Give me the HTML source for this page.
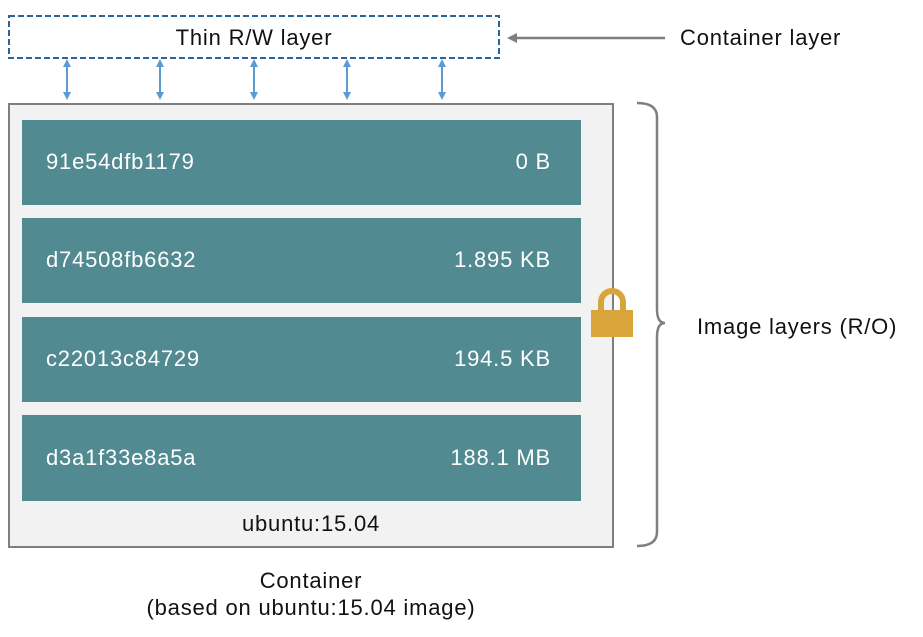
<!DOCTYPE html>
<html><head><meta charset="utf-8"><style>
html,body{margin:0;padding:0;background:#fff;width:923px;height:637px;overflow:hidden}
text{font-family:"Liberation Sans",sans-serif;letter-spacing:0.8px}
</style></head><body>
<svg width="923" height="637" viewBox="0 0 923 637" xmlns="http://www.w3.org/2000/svg">
<defs>
<marker id="ah" markerWidth="8" markerHeight="8" refX="4" refY="4" orient="auto-start-reverse" markerUnits="userSpaceOnUse">
<path d="M0,0 L8,4 L0,8 z" fill="#5b9bd5"/></marker>
<marker id="ag" markerWidth="10" markerHeight="10" refX="5" refY="5" orient="auto" markerUnits="userSpaceOnUse">
<path d="M0,0 L10,5 L0,10 z" fill="#7f7f7f"/></marker>
</defs>
<rect x="9" y="16" width="490" height="42" fill="#fff" stroke="#2e6598" stroke-width="2" stroke-dasharray="6,3"/>
<text x="254" y="45" font-size="22" text-anchor="middle" fill="#111">Thin R/W layer</text>
<line x1="665" y1="38" x2="512" y2="38" stroke="#7f7f7f" stroke-width="2.5" marker-end="url(#ag)"/>
<text x="680" y="45" font-size="22" fill="#111">Container layer</text>
<g stroke="#5b9bd5" stroke-width="2" marker-start="url(#ah)" marker-end="url(#ah)">
<line x1="67" y1="63" x2="67" y2="96"/>
<line x1="160" y1="63" x2="160" y2="96"/>
<line x1="254" y1="63" x2="254" y2="96"/>
<line x1="347" y1="63" x2="347" y2="96"/>
<line x1="442" y1="63" x2="442" y2="96"/>
</g>
<rect x="9" y="104" width="604" height="443" fill="#f2f2f2" stroke="#7f7f7f" stroke-width="2"/>
<g fill="#528a92">
<rect x="22" y="120" width="559" height="85"/>
<rect x="22" y="218" width="559" height="85"/>
<rect x="22" y="317" width="559" height="85"/>
<rect x="22" y="415" width="559" height="86"/>
</g>
<g font-size="22" fill="#fff">
<text x="46" y="169">91e54dfb1179</text><text x="551" y="169" text-anchor="end">0 B</text>
<text x="46" y="267">d74508fb6632</text><text x="551" y="267" text-anchor="end">1.895 KB</text>
<text x="46" y="366">c22013c84729</text><text x="551" y="366" text-anchor="end">194.5 KB</text>
<text x="46" y="465">d3a1f33e8a5a</text><text x="551" y="465" text-anchor="end">188.1 MB</text>
</g>
<text x="311" y="531" font-size="22" text-anchor="middle" fill="#111">ubuntu:15.04</text>
<path d="M601,310 v-8 a11,11 0 0 1 22,0 v8" fill="none" stroke="#d9a53a" stroke-width="6"/>
<rect x="591" y="310" width="42" height="27" fill="#d9a53a"/>
<path d="M637,103 q20,0 20,14 v192 q0,14 8,14 q-8,0 -8,14 v195 q0,14 -20,14" fill="none" stroke="#7f7f7f" stroke-width="2.5"/>
<text x="697" y="334" font-size="22" fill="#111">Image layers (R/O)</text>
<text x="311" y="588" font-size="22" text-anchor="middle" fill="#111">Container</text>
<text x="311" y="615" font-size="22" text-anchor="middle" fill="#111">(based on ubuntu:15.04 image)</text>
</svg>
</body></html>
